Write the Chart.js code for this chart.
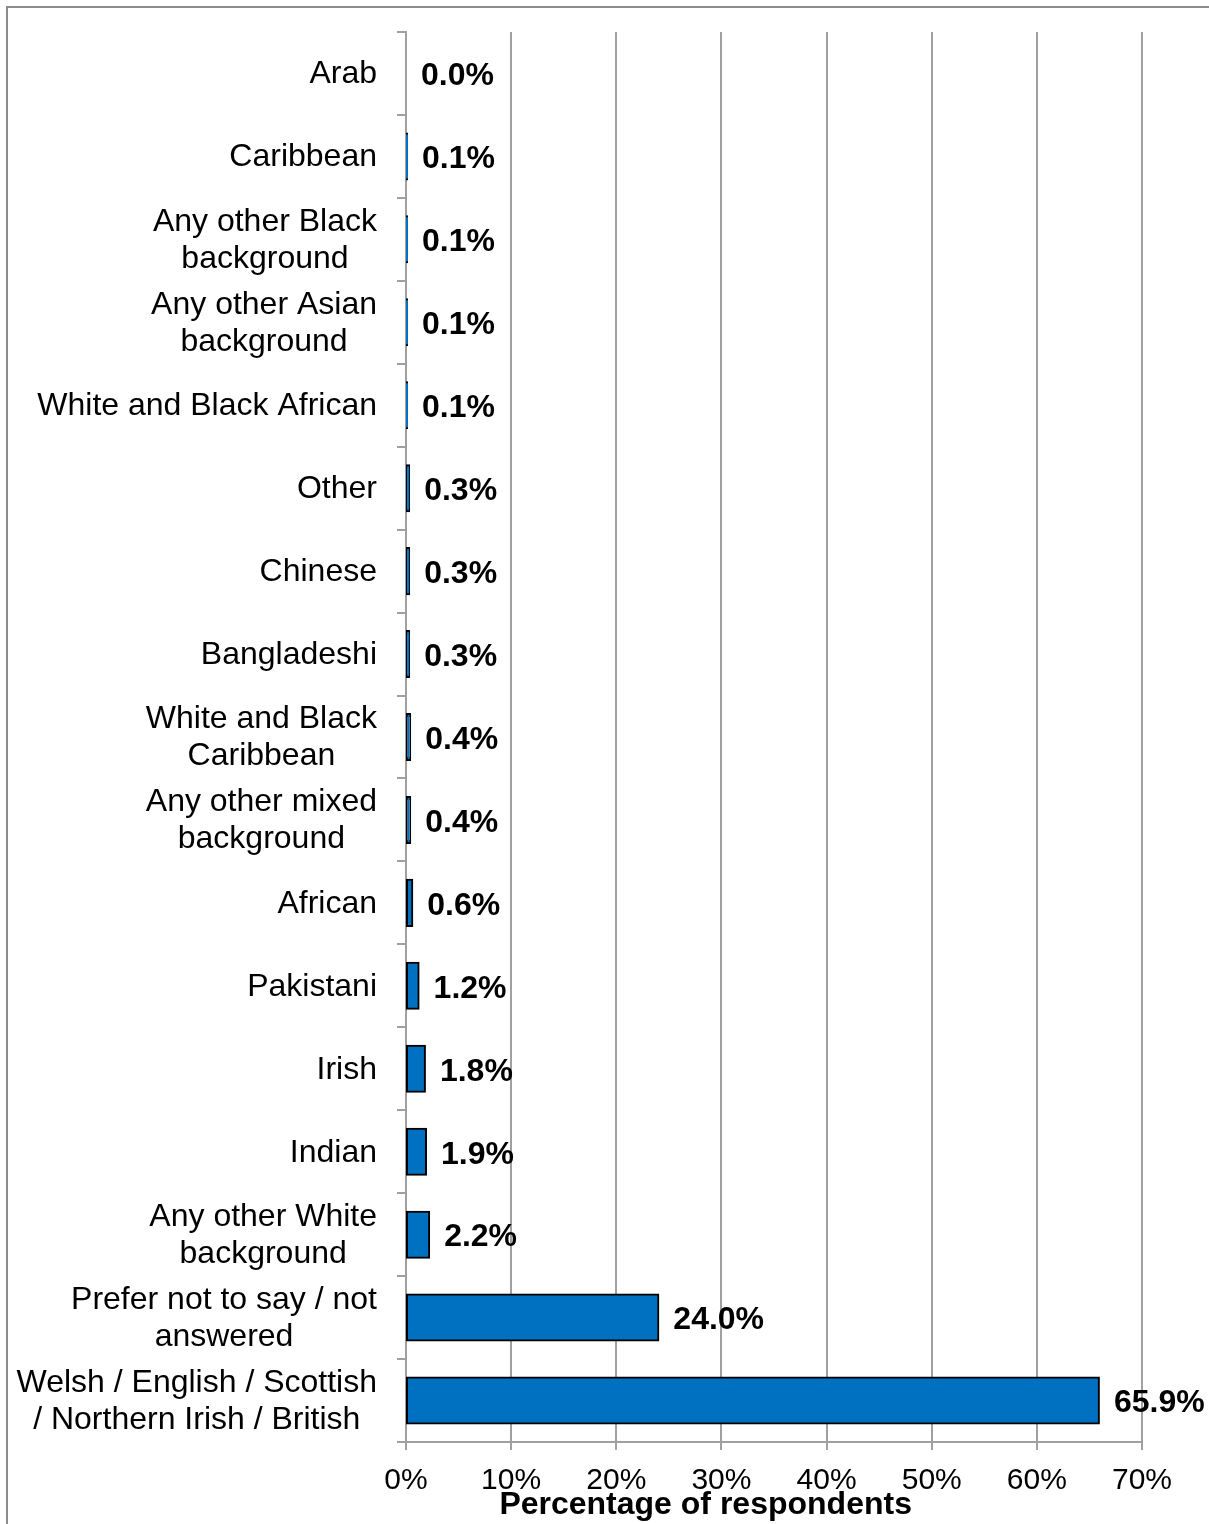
<!DOCTYPE html>
<html>
<head>
<meta charset="utf-8">
<script src="https://cdn.jsdelivr.net/npm/chart.js@4/dist/chart.umd.min.js"></script>
<style>
  html, body { margin: 0; padding: 0; background: #fff; overflow: hidden; }
  #wrap { position: relative; width: 1209px; height: 1524px; }
</style>
</head>
<body>
<div id="wrap"><canvas id="c"></canvas></div>
<script>
// Ethnic background of respondents (percentage of respondents)
const categories = [
  ["Arab"],
  ["Caribbean"],
  ["Any other Black", "background"],
  ["Any other Asian", "background"],
  ["White and Black African"],
  ["Other"],
  ["Chinese"],
  ["Bangladeshi"],
  ["White and Black", "Caribbean"],
  ["Any other mixed", "background"],
  ["African"],
  ["Pakistani"],
  ["Irish"],
  ["Indian"],
  ["Any other White", "background"],
  ["Prefer not to say / not", "answered"],
  ["Welsh / English / Scottish", "/ Northern Irish / British"]
];
const values = [0.0, 0.1, 0.1, 0.1, 0.1, 0.3, 0.3, 0.3, 0.4, 0.4, 0.6, 1.2, 1.8, 1.9, 2.2, 24.0, 65.9];
const xTickValues = [0, 10, 20, 30, 40, 50, 60, 70];
const axisTitle = "Percentage of respondents";

const FONT = '"Liberation Sans", Arial, Helvetica, sans-serif';
const GRID = '#a0a0a0';

// white page with the frame around the chart
const framePlugin = {
  id: 'frame',
  beforeDraw(chart) {
    const { ctx, width, height } = chart;
    ctx.save();
    ctx.fillStyle = '#fff';
    ctx.fillRect(0, 0, width, height);
    ctx.strokeStyle = '#8c8c8c';
    ctx.lineWidth = 2;
    ctx.strokeRect(7, 7, width + 20, height + 20);
    ctx.restore();
  }
};

// category labels: right-aligned block, each line centred within it
const categoryLabelPlugin = {
  id: 'categoryLabels',
  afterDraw(chart) {
    const { ctx } = chart;
    const y = chart.scales.y;
    ctx.save();
    ctx.font = '32px ' + FONT;
    ctx.fillStyle = '#000';
    ctx.textAlign = 'center';
    ctx.textBaseline = 'middle';
    const rightEdge = y.right - 29;
    const lineHeight = 37;
    categories.forEach((lines, i) => {
      const cy = y.getPixelForValue(i);
      const w = Math.max(...lines.map(l => ctx.measureText(l).width));
      const cx = rightEdge - w / 2;
      lines.forEach((line, j) => {
        ctx.fillText(line, cx, cy + (j - (lines.length - 1) / 2) * lineHeight + 1);
      });
    });
    ctx.restore();
  }
};

// value labels at the end of each bar
const valueLabelPlugin = {
  id: 'valueLabels',
  afterDatasetsDraw(chart) {
    const { ctx } = chart;
    const meta = chart.getDatasetMeta(0);
    ctx.save();
    ctx.font = 'bold 32px ' + FONT;
    ctx.fillStyle = '#000';
    ctx.textAlign = 'left';
    ctx.textBaseline = 'middle';
    meta.data.forEach((bar, i) => {
      ctx.fillText(values[i].toFixed(1) + '%', bar.x + 15, bar.y + 3);
    });
    ctx.restore();
  }
};

// x-axis title, placed under the tick labels
const axisTitlePlugin = {
  id: 'axisTitle',
  afterDraw(chart) {
    const { ctx } = chart;
    const x = chart.scales.x;
    ctx.save();
    ctx.font = 'bold 32px ' + FONT;
    ctx.fillStyle = '#000';
    ctx.textAlign = 'center';
    ctx.textBaseline = 'alphabetic';
    ctx.fillText(axisTitle, x.getPixelForValue(28.5), 1514);
    ctx.restore();
  }
};

new Chart(document.getElementById('c'), {
  type: 'bar',
  data: {
    labels: categories,
    datasets: [{
      data: values,
      backgroundColor: '#0070C0',
      borderColor: '#000',
      borderWidth: 2,
      borderSkipped: false,
      inflateAmount: 1,
      barPercentage: 0.555,
      categoryPercentage: 1.0
    }]
  },
  options: {
    indexAxis: 'y',
    responsive: true,
    maintainAspectRatio: false,
    animation: false,
    events: [],
    layout: { padding: { top: 32, right: 67, left: 0, bottom: 0 } },
    plugins: {
      legend: { display: false },
      tooltip: { enabled: false }
    },
    scales: {
      x: {
        type: 'linear',
        min: 0,
        max: 70,
        afterBuildTicks(scale) {
          scale.ticks = xTickValues.map(v => ({ value: v }));
        },
        afterFit(scale) { scale.height = 82; },
        grid: {
          color: GRID,
          lineWidth: 2,
          drawTicks: true,
          tickLength: 8,
          tickColor: GRID
        },
        border: { color: GRID, width: 2 },
        ticks: {
          color: '#000',
          font: { family: FONT, size: 30 },
          padding: 13,
          maxRotation: 0,
          callback: v => v + '%'
        },
        title: { display: false }
      },
      y: {
        type: 'category',
        offset: true,
        afterFit(scale) { scale.width = 406; },
        grid: {
          offset: true,
          drawOnChartArea: false,
          drawTicks: true,
          tickLength: 9,
          tickColor: GRID,
          lineWidth: 2
        },
        border: { color: GRID, width: 2 },
        ticks: { display: false }
      }
    }
  },
  plugins: [framePlugin, categoryLabelPlugin, valueLabelPlugin, axisTitlePlugin]
});
</script>
</body>
</html>
